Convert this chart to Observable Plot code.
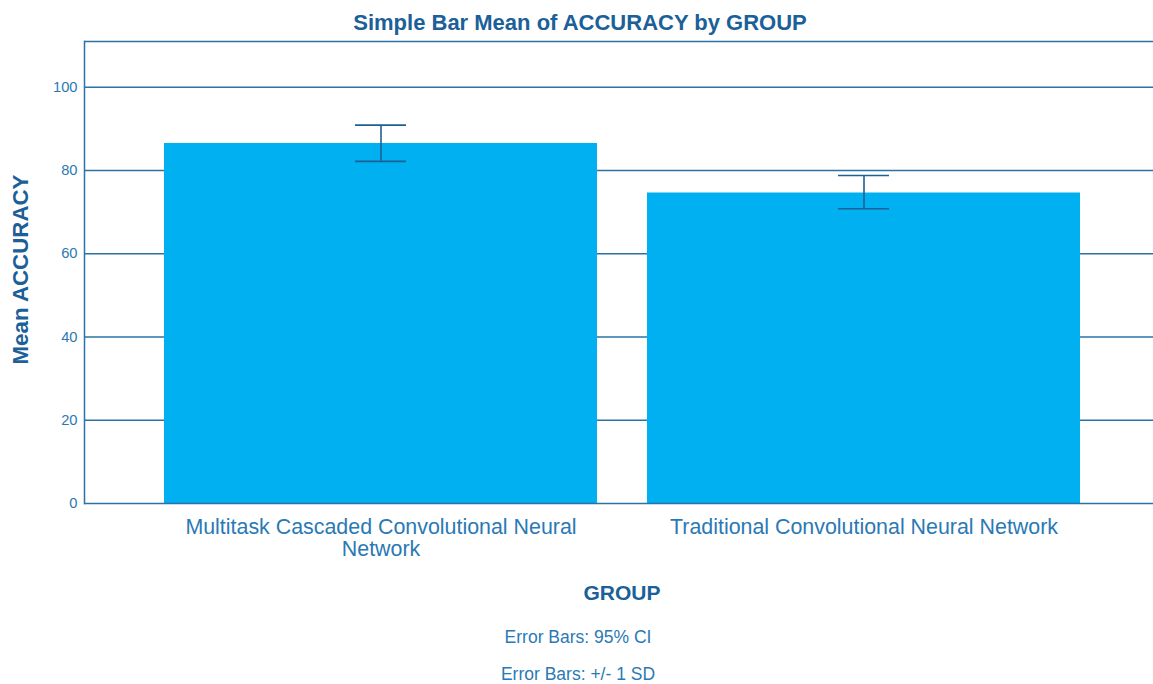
<!DOCTYPE html>
<html>
<head>
<meta charset="utf-8">
<script src="https://cdn.jsdelivr.net/npm/d3@7"></script>
<script src="https://cdn.jsdelivr.net/npm/@observablehq/plot@0.6"></script>
<style>
  html, body { margin: 0; padding: 0; background: #ffffff; }
  #chart svg { display: block; }
</style>
</head>
<body>
<div id="chart"></div>
<script>
// ---- data ----
const groups = [
  "Multitask Cascaded Convolutional Neural Network",
  "Traditional Convolutional Neural Network"
];
const groupTickLabels = [
  "Multitask Cascaded Convolutional Neural\nNetwork",
  "Traditional Convolutional Neural Network"
];
const meanAccuracy = [86.5, 74.6];
const errorLow = [82.2, 70.8];
const errorHigh = [90.9, 78.8];
const yTicks = [0, 20, 40, 60, 80, 100];
const yMax = 111;

const title = "Simple Bar Mean of ACCURACY by GROUP";
const yLabel = "Mean ACCURACY";
const xLabel = "GROUP";
const footnotes = ["Error Bars: 95% CI", "Error Bars: +/- 1 SD"];

const rows = groups.map((g, i) => ({
  group: g, mean: meanAccuracy[i], lo: errorLow[i], hi: errorHigh[i]
}));
const tickLabelOf = new Map(groups.map((g, i) => [g, groupTickLabels[i]]));

const titleColor = "#1b6098";
const tickColor = "#2a79b4";
const lineColor = "#2b72a6";
const barColor = "#00b0f0";
const errColor = "#1d6194";

const chart = Plot.plot({
  width: 1153,
  height: 684,
  marginTop: 41,
  marginBottom: 181,
  marginLeft: 84,
  marginRight: 0,
  style: { fontFamily: "'Liberation Sans', Arial, sans-serif", background: "#ffffff", overflow: "visible" },
  x: { domain: groups, paddingInner: 0.103, paddingOuter: 0.156, align: 0.524, label: null },
  y: { domain: [0, yMax], label: null },
  marks: [
    Plot.gridY(yTicks.filter(d => d > 0), { stroke: lineColor, strokeOpacity: 1, strokeWidth: 1.4 }),
    Plot.barY(rows, { x: "group", y: "mean", fill: barColor, inset: 0 }),
    Plot.ruleX(rows, { x: "group", y1: "lo", y2: "hi", stroke: errColor, strokeWidth: 1.6 }),
    Plot.tickY(rows, { x: "group", y: "lo", stroke: errColor, strokeWidth: 1.6, insetLeft: 191, insetRight: 191 }),
    Plot.tickY(rows, { x: "group", y: "hi", stroke: errColor, strokeWidth: 1.6, insetLeft: 191, insetRight: 191 }),
    Plot.ruleY([0], { stroke: lineColor, strokeWidth: 1.5 }),
    Plot.ruleY([yMax], { stroke: lineColor, strokeWidth: 1.5 }),
    Plot.frame({ anchor: "left", stroke: lineColor, strokeWidth: 1.5 }),
    Plot.axisY({ ticks: yTicks, tickSize: 0, tickPadding: 7, fontSize: 14.7, fill: tickColor, label: null }),
    Plot.axisX({ tickSize: 0, tickPadding: 15, fontSize: 21.4, fill: tickColor, lineHeight: 1.03,
                 tickFormat: d => tickLabelOf.get(d), label: null }),
    Plot.text([title], { text: d => d, frameAnchor: "top", dx: -39, dy: -27,
                         fontSize: 22, fontWeight: "bold", fill: titleColor }),
    Plot.text([yLabel], { text: d => d, frameAnchor: "left", textAnchor: "middle", lineAnchor: "middle",
                          rotate: -90, dx: -64, dy: -3,
                          fontSize: 22.3, fontWeight: "bold", fill: titleColor }),
    Plot.text([xLabel], { text: d => d, frameAnchor: "bottom", dx: 3, dy: 96.3,
                          fontSize: 21, fontWeight: "bold", fill: titleColor }),
    Plot.text([footnotes[0]], { text: d => d, frameAnchor: "bottom", dx: -41, dy: 139.4,
                                fontSize: 17.5, fill: tickColor }),
    Plot.text([footnotes[1]], { text: d => d, frameAnchor: "bottom", dx: -41, dy: 176.4,
                                fontSize: 17.5, fill: tickColor })
  ]
});
document.getElementById("chart").appendChild(chart);
</script>
</body>
</html>
